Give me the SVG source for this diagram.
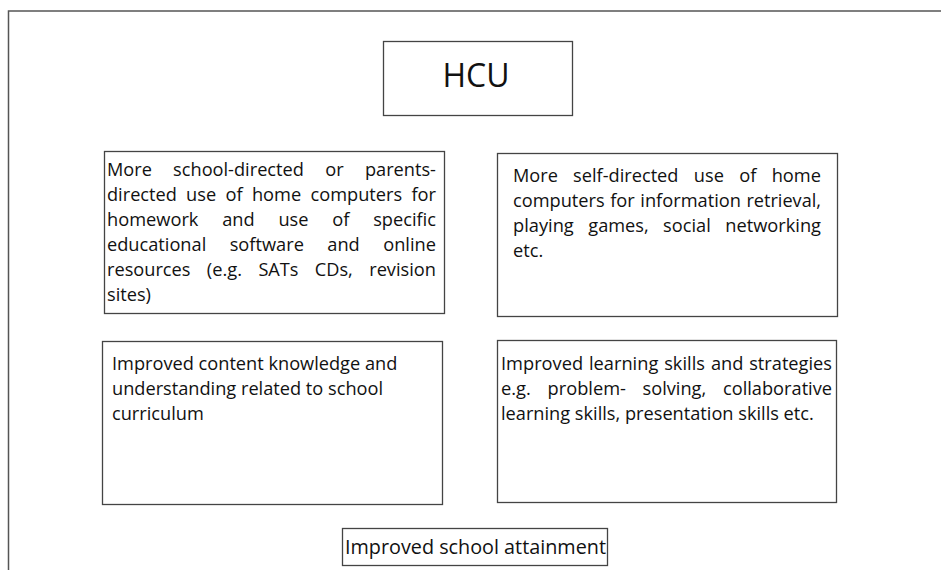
<svg xmlns="http://www.w3.org/2000/svg" width="941" height="570" viewBox="0 0 941 570">
<style>
.box{fill:#fff;stroke:#444;stroke-width:1.3}
.t{font-family:"Open Sans","Liberation Sans",sans-serif;font-size:18.2px;fill:#111}
.frame{fill:none;stroke:#555;stroke-width:1.5}
</style>
<rect width="941" height="570" fill="#fff"/>
<path class="frame" d="M941,11 H8.5 V570"/>
<g id="hcu">
<rect class="box" x="383.5" y="41.5" width="189" height="74"/>
<text class="t" x="476" y="87" style="font-size:32px" text-anchor="middle">HCU</text>
</g>
<g id="school-directed">
<rect class="box" x="104.5" y="151.5" width="340" height="162"/>
<text class="t" lengthAdjust="spacingAndGlyphs">
<tspan x="107" y="176" textLength="44.83" lengthAdjust="spacingAndGlyphs">More</tspan><tspan x="173.1" y="176" textLength="130.82" lengthAdjust="spacingAndGlyphs">school-directed</tspan><tspan x="325.2" y="176" textLength="18.42" lengthAdjust="spacingAndGlyphs">or</tspan><tspan x="364.9" y="176" textLength="71.05" lengthAdjust="spacingAndGlyphs">parents-</tspan>
<tspan x="107" y="201" textLength="69.85" lengthAdjust="spacingAndGlyphs">directed</tspan><tspan x="186.1" y="201" textLength="30.07" lengthAdjust="spacingAndGlyphs">use</tspan><tspan x="225.5" y="201" textLength="17.16" lengthAdjust="spacingAndGlyphs">of</tspan><tspan x="251.9" y="201" textLength="49.3" lengthAdjust="spacingAndGlyphs">home</tspan><tspan x="310.5" y="201" textLength="91.66" lengthAdjust="spacingAndGlyphs">computers</tspan><tspan x="411.4" y="201" textLength="24.59" lengthAdjust="spacingAndGlyphs">for</tspan>
<tspan x="107" y="226" textLength="91.44" lengthAdjust="spacingAndGlyphs">homework</tspan><tspan x="222.2" y="226" textLength="32.45" lengthAdjust="spacingAndGlyphs">and</tspan><tspan x="278.4" y="226" textLength="30.07" lengthAdjust="spacingAndGlyphs">use</tspan><tspan x="332.3" y="226" textLength="17.16" lengthAdjust="spacingAndGlyphs">of</tspan><tspan x="373.2" y="226" textLength="62.75" lengthAdjust="spacingAndGlyphs">specific</tspan>
<tspan x="107" y="251" textLength="99.24" lengthAdjust="spacingAndGlyphs">educational</tspan><tspan x="229.7" y="251" textLength="74.18" lengthAdjust="spacingAndGlyphs">software</tspan><tspan x="327.3" y="251" textLength="32.45" lengthAdjust="spacingAndGlyphs">and</tspan><tspan x="383.2" y="251" textLength="52.76" lengthAdjust="spacingAndGlyphs">online</tspan>
<tspan x="107" y="276" textLength="83.47" lengthAdjust="spacingAndGlyphs">resources</tspan><tspan x="206.8" y="276" textLength="35.25" lengthAdjust="spacingAndGlyphs">(e.g.</tspan><tspan x="258.4" y="276" textLength="40.11" lengthAdjust="spacingAndGlyphs">SATs</tspan><tspan x="314.8" y="276" textLength="38" lengthAdjust="spacingAndGlyphs">CDs,</tspan><tspan x="369.2" y="276" textLength="66.81" lengthAdjust="spacingAndGlyphs">revision</tspan>
<tspan x="107" y="301">sites)</tspan>
</text>
</g>
<g id="self-directed">
<rect class="box" x="497.5" y="153.5" width="340" height="163"/>
<text class="t">
<tspan x="513" y="182" textLength="44.83" lengthAdjust="spacingAndGlyphs">More</tspan><tspan x="573.1" y="182" textLength="105.38" lengthAdjust="spacingAndGlyphs">self-directed</tspan><tspan x="693.8" y="182" textLength="30.07" lengthAdjust="spacingAndGlyphs">use</tspan><tspan x="739.2" y="182" textLength="17.16" lengthAdjust="spacingAndGlyphs">of</tspan><tspan x="771.7" y="182" textLength="49.3" lengthAdjust="spacingAndGlyphs">home</tspan>
<tspan x="513" y="207" textLength="91.66" lengthAdjust="spacingAndGlyphs">computers</tspan><tspan x="610.2" y="207" textLength="24.59" lengthAdjust="spacingAndGlyphs">for</tspan><tspan x="640.3" y="207" textLength="100.61" lengthAdjust="spacingAndGlyphs">information</tspan><tspan x="746.4" y="207" textLength="74.6" lengthAdjust="spacingAndGlyphs">retrieval,</tspan>
<tspan x="513" y="232" textLength="60.77" lengthAdjust="spacingAndGlyphs">playing</tspan><tspan x="588.3" y="232" textLength="60.37" lengthAdjust="spacingAndGlyphs">games,</tspan><tspan x="663.1" y="232" textLength="47.67" lengthAdjust="spacingAndGlyphs">social</tspan><tspan x="725.3" y="232" textLength="95.7" lengthAdjust="spacingAndGlyphs">networking</tspan>
<tspan x="513" y="257">etc.</tspan>
</text>
</g>
<g id="content-knowledge">
<rect class="box" x="102.5" y="341.5" width="340" height="163"/>
<text class="t">
<tspan x="112" y="370">Improved content knowledge and</tspan>
<tspan x="112" y="395">understanding related to school</tspan>
<tspan x="112" y="420">curriculum</tspan>
</text>
</g>
<g id="learning-skills">
<rect class="box" x="497.5" y="340.5" width="339" height="162"/>
<text class="t">
<tspan x="501" y="370" textLength="82.06" lengthAdjust="spacingAndGlyphs">Improved</tspan><tspan x="589" y="370" textLength="69.29" lengthAdjust="spacingAndGlyphs">learning</tspan><tspan x="664.2" y="370" textLength="40.73" lengthAdjust="spacingAndGlyphs">skills</tspan><tspan x="710.9" y="370" textLength="32.45" lengthAdjust="spacingAndGlyphs">and</tspan><tspan x="749.2" y="370" textLength="82.76" lengthAdjust="spacingAndGlyphs">strategies</tspan>
<tspan x="501" y="395" textLength="29.87" lengthAdjust="spacingAndGlyphs">e.g.</tspan><tspan x="547.6" y="395" textLength="78.33" lengthAdjust="spacingAndGlyphs">problem-</tspan><tspan x="642.6" y="395" textLength="63.61" lengthAdjust="spacingAndGlyphs">solving,</tspan><tspan x="723" y="395" textLength="109.04" lengthAdjust="spacingAndGlyphs">collaborative</tspan>
<tspan x="501" y="420">learning skills, presentation skills etc.</tspan>
</text>
</g>
<g id="attainment">
<rect class="box" x="342.5" y="528.5" width="265" height="37"/>
<text class="t" x="345" y="554" style="font-size:19.8px">Improved school attainment</text>
</g>
<g id="connectors"></g>
</svg>
